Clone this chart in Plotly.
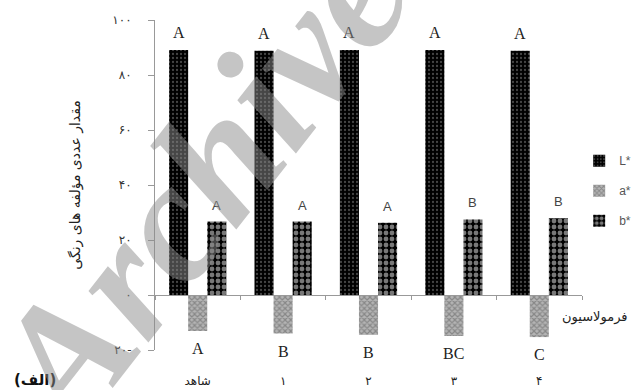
import plotly.graph_objects as go

categories = ["شاهد", "۱", "۲", "۳", "۴"]
series_names = ["L*", "a*", "b*"]
L_values = [89.1, 88.8, 89.1, 89.1, 88.8]
a_values = [-13.1, -14.0, -14.5, -14.9, -15.3]
b_values = [26.7, 26.7, 26.3, 27.5, 27.9]
L_letters = ["A", "A", "A", "A", "A"]
a_letters = ["A", "B", "B", "BC", "C"]
b_letters = ["A", "A", "A", "B", "B"]
y_tickvals = [-20, 0, 20, 40, 60, 80, 100]
y_ticktext = ["۲۰-", "۰", "۲۰", "۴۰", "۶۰", "۸۰", "۱۰۰"]
y_title = "مقدار عددی مؤلفه های رنگی"
x_title = "فرمولاسیون"
panel_label = "(الف)"
watermark = "Archive"

YMIN, YMAX = -20, 100
BARGAP = 0.33
n = len(categories)
bw = (1 - BARGAP) / 3

fig = go.Figure()
patterns = [
    dict(shape=".", bgcolor="#000000", fgcolor="#8a8a8a", size=4, solidity=0.25),
    dict(shape="x", bgcolor="#b4b4b4", fgcolor="#5a5a5a", size=4, solidity=0.5),
    dict(shape=".", bgcolor="#000000", fgcolor="#f0f0f0", size=6, solidity=0.5),
]
all_values = [L_values, a_values, b_values]
for i, (name, vals) in enumerate(zip(series_names, all_values)):
    fig.add_trace(go.Bar(
        x=list(range(n)), y=vals, name=name, legendgroup=name,
        marker=dict(color=patterns[i]["bgcolor"], line=dict(width=0), pattern=patterns[i]),
        hoverinfo="skip",
    ))

# invisible trace to hold the zero-line category axis
fig.add_trace(go.Scatter(x=[-0.5, n - 0.5], y=[0, 0], xaxis="x2", mode="lines",
                         line=dict(width=0), showlegend=False, hoverinfo="skip"))

annotations = []
letter_sets = [L_letters, a_letters, b_letters]
for i, (vals, letters) in enumerate(zip(all_values, letter_sets)):
    off = (i - 1) * bw
    for k, (v, t) in enumerate(zip(vals, letters)):
        if i == 2:
            font = dict(family="Liberation Sans", size=13, color="#444444")
        else:
            font = dict(family="Liberation Serif", size=16, color="#222222")
        annotations.append(dict(
            x=k + off, y=v, xref="x", yref="y", text=t, showarrow=False, font=font,
            yanchor="bottom" if v >= 0 else "top", yshift=7 if v >= 0 else -7,
        ))

annotations.append(dict(x=0.948, y=0.1, xref="paper", yref="paper", text=x_title,
                        showarrow=False, xanchor="left", yanchor="middle",
                        font=dict(family="DejaVu Sans", size=13, color="#222222")))
annotations.append(dict(x=-0.335, y=-0.09, xref="paper", yref="paper", text="<b>" + panel_label + "</b>",
                        showarrow=False, xanchor="left", yanchor="middle",
                        font=dict(family="DejaVu Sans", size=15, color="#111111")))
annotations.append(dict(x=0.1, y=0.5, xref="paper", yref="paper", text="<b><i>" + watermark + "</i></b>",
                        showarrow=False, textangle=-52, xanchor="center", yanchor="middle",
                        font=dict(family="Liberation Serif", size=172, color="rgba(140,140,140,0.5)")))

fig.update_layout(
    width=633, height=390,
    margin=dict(l=155, r=51, t=20, b=40, autoexpand=False),
    plot_bgcolor="white", paper_bgcolor="white",
    barmode="group", bargap=BARGAP, bargroupgap=0,
    showlegend=True,
    legend=dict(xref="container", yref="container", x=0.915, xanchor="left", y=0.625, yanchor="top",
                font=dict(family="Liberation Sans", size=12, color="#555555"),
                traceorder="grouped", tracegroupgap=11, itemwidth=30, bgcolor="rgba(0,0,0,0)"),
    xaxis=dict(range=[-0.5, n - 0.5], tickmode="array", tickvals=list(range(n)), ticktext=categories,
               showline=False, ticks="", showgrid=False, zeroline=False, ticklabelstandoff=22,
               automargin=False,
               tickfont=dict(family="DejaVu Sans", size=12, color="#222222")),
    xaxis2=dict(overlaying="x", anchor="free", position=(0 - YMIN) / (YMAX - YMIN),
                range=[-0.5, n - 0.5], showline=True, linecolor="#999999", linewidth=1,
                ticks="outside", ticklen=4, tickcolor="#999999", automargin=False,
                tickvals=[k - 0.5 for k in range(n + 1)], showticklabels=False, showgrid=False, zeroline=False),
    yaxis=dict(range=[YMIN, YMAX], tickvals=y_tickvals, ticktext=y_ticktext,
               showline=True, linecolor="#999999", ticks="outside", ticklen=6, tickcolor="#999999",
               showgrid=False, zeroline=False, ticklabelstandoff=14, automargin=False,
               tickfont=dict(family="DejaVu Sans", size=12, color="#333333"),
               title=dict(text=y_title, standoff=28, font=dict(family="DejaVu Sans", size=14, color="#222222"))),
    annotations=annotations,
)

fig.write_html("out.html", config={"displayModeBar": False},
               post_script="document.body.style.margin='0';document.body.style.overflow='hidden';")
